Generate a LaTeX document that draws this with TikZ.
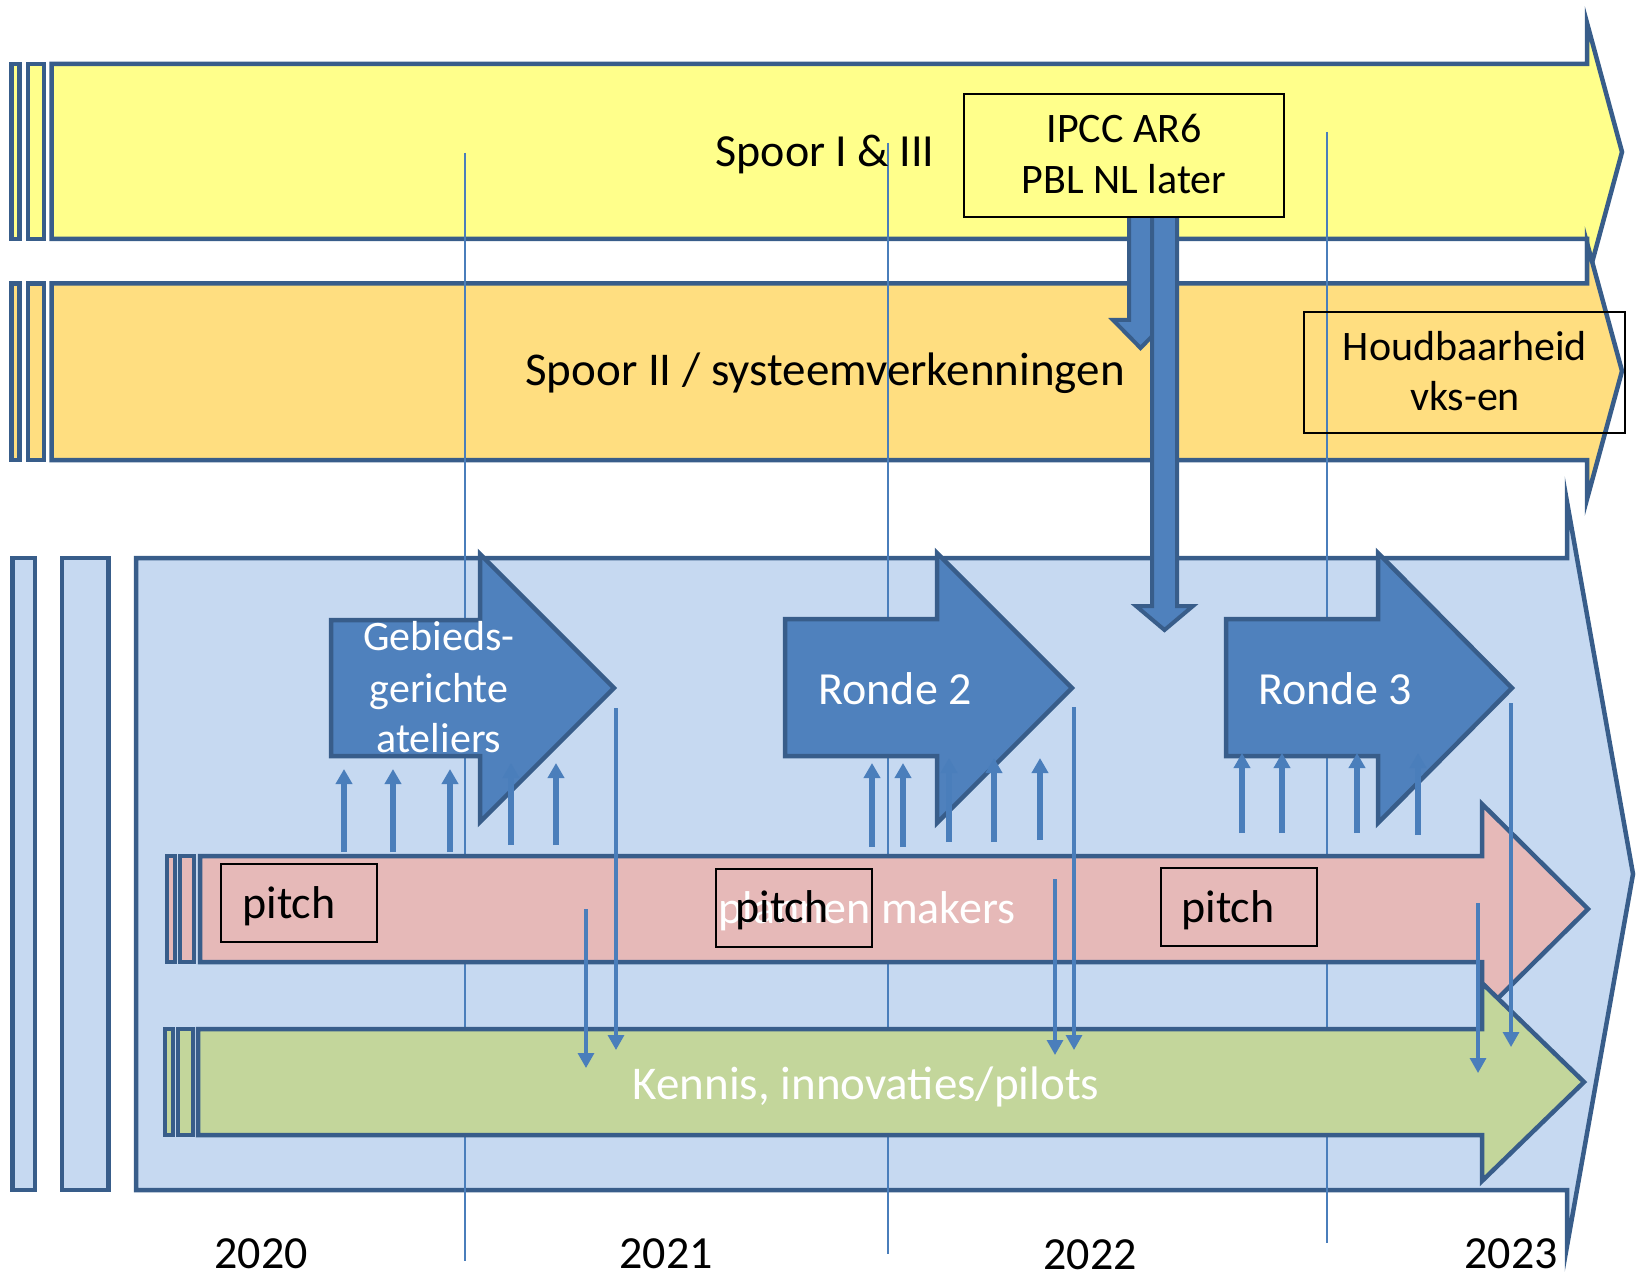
\documentclass[tikz,border=0pt]{standalone}
\usepackage{fontspec}
\setmainfont{Carlito}
\usetikzlibrary{arrows.meta}
\definecolor{cborder}{HTML}{385D8A}
\definecolor{cyellow}{HTML}{FFFF8B}
\definecolor{corange}{HTML}{FFDE80}
\definecolor{clight}{HTML}{C6D9F1}
\definecolor{cblue}{HTML}{4F81BD}
\definecolor{cpink}{HTML}{E6B9B8}
\definecolor{cgreen}{HTML}{C3D69B}
\definecolor{clines}{HTML}{4A7EBB}
\newcommand\fsz[1]{\fontsize{#1}{#1}\selectfont}
\begin{document}
\begin{tikzpicture}[x=0.5pt,y=-0.5pt,
  band/.style={draw=cborder, line width=2.25pt, miter limit=25},
  yearline/.style={draw=clines, line width=1pt},
  uparrow/.style={draw=clines, line width=2.6pt, -{Triangle[width=8pt,length=7.5pt]}},
  downarrow/.style={draw=clines, line width=1.6pt, -{Triangle[width=8pt,length=7.5pt]}},
  boxed/.style={draw=black, line width=0.7pt, inner sep=0pt},
  txt/.style={inner sep=0pt, anchor=base},
  txtw/.style={inner sep=0pt, anchor=base west}]
\useasboundingbox (0,0) rectangle (1652,1278);

% ---- Spoor I & III (yellow)
\draw[band, fill=cyellow] (11.6,64) rectangle (19.7,239);
\draw[band, fill=cyellow] (28.2,64) rectangle (43.8,239);
\draw[band, fill=cyellow] (51.5,64) -- (1587,64) -- (1587,23) -- (1622,152) -- (1587,281) -- (1587,239) -- (51.5,239) -- cycle;

% ---- Spoor II (orange)
\draw[band, fill=corange] (11.6,283.5) rectangle (19.7,460);
\draw[band, fill=corange] (28.2,283.5) rectangle (43.8,460);
\draw[band, fill=corange] (51.5,283.5) -- (1587,283.5) -- (1587,243) -- (1622,371) -- (1587,499) -- (1587,460) -- (51.5,460) -- cycle;

% ---- big light blue arrow
\draw[band, fill=clight] (12.5,558) rectangle (35,1190);
\draw[band, fill=clight] (62,558) rectangle (108.5,1190);
\draw[band, fill=clight] (136,558) -- (1567,558) -- (1567,502) -- (1633,874) -- (1567,1246) -- (1567,1190) -- (136,1190) -- cycle;

% ---- year lines
\coordinate (ya1) at (465,153);  \coordinate (yb1) at (465,1261);
\coordinate (ya2) at (888,143);  \coordinate (yb2) at (888,1254);
\coordinate (ya3) at (1327,132); \coordinate (yb3) at (1327,1243);
\draw[yearline] (ya1) -- (yb1);
\draw[yearline] (ya2) -- (yb2);
\draw[yearline] (ya3) -- (yb3);

% ---- IPCC down arrows
\draw[band, line width=2pt, fill=cblue] (1129,212) -- (1129,320) -- (1113,320) -- (1140.5,348) -- (1168,320) -- (1152,320) -- (1152,212);
\draw[band, line width=2pt, fill=cblue] (1152,212) -- (1152,606) -- (1136,606) -- (1164.5,630) -- (1193,606) -- (1177,606) -- (1177,212);

% ---- IPCC box
\node[boxed, fill=cyellow, minimum width=160pt, minimum height=61.5pt] (ipcc) at (1124,155.5) {};
\node[txt, font=\fsz{21}] (ipcc1) at (1124,143) {IPCC AR6};
\node[txt, font=\fsz{21}] (ipcc2) at (1124,194) {PBL NL later};

% ---- Houdbaarheid box
\node[boxed, minimum width=160.5pt, minimum height=60.5pt] (houd) at (1464.5,372.5) {};
\node[txt, font=\fsz{21}] (houd1) at (1465,360) {Houdbaarheid};
\node[txt, font=\fsz{21}] (houd2) at (1465,410) {vks-en};

% ---- band texts
\node[txt, font=\fsz{23}] (s1) at (825,167) {Spoor I \& III};
\node[txt, font=\fsz{23.5}] (s2) at (825,385) {Spoor II / systeemverkenningen};

% ---- round arrows
\draw[band, fill=cblue] (331,620) -- (480,620) -- (480,554) -- (614,688) -- (480,822) -- (480,756) -- (331,756) -- cycle;
\draw[band, fill=cblue] (785,619) -- (937,619) -- (937,553) -- (1072,688) -- (937,823) -- (937,756) -- (785,756) -- cycle;
\draw[band, fill=cblue] (1226,619) -- (1378,619) -- (1378,553) -- (1512,688) -- (1378,823) -- (1378,756) -- (1226,756) -- cycle;
\node[txt, font=\fsz{21}, text=white] (g1) at (439,650) {Gebieds-};
\node[txt, font=\fsz{21}, text=white] (g2) at (439,702) {gerichte};
\node[txt, font=\fsz{21}, text=white] (g3) at (439,752) {ateliers};
\node[txt, font=\fsz{23}, text=white] (r2) at (895,704) {Ronde 2};
\node[txt, font=\fsz{23}, text=white] (r3) at (1335,704) {Ronde 3};

% ---- pink band
\draw[band, fill=cpink] (167,856) rectangle (175,962);
\draw[band, fill=cpink] (180,856) rectangle (194,962);
\draw[band, fill=cpink] (200,856) -- (1482,856) -- (1482,804) -- (1588,909) -- (1482,1014) -- (1482,962) -- (200,962) -- cycle;

% ---- green band
\draw[band, fill=cgreen] (165,1029) rectangle (173,1135);
\draw[band, fill=cgreen] (178,1029) rectangle (193,1135);
\draw[band, fill=cgreen] (198,1029) -- (1482,1029) -- (1482,983) -- (1584,1082) -- (1482,1181) -- (1482,1135) -- (198,1135) -- cycle;

\node[txt, font=\fsz{23}, text=white] (pm) at (867,923) {plannen makers};
\node[txt, font=\fsz{23.5}, text=white] (ken) at (866,1099) {Kennis, innovaties/pilots};

% ---- up arrows
\foreach \x/\a/\b [count=\i] in {344/852/769,393/852/769,450/852/769,511/845/763,556/845/763,
  872/847/763,903/847/763,949/842/758,994/842/758,1040/840/758,
  1242/833/753,1282/833/753,1357/833/753,1418/835/753}{
  \coordinate (ua\i) at (\x,\a);
  \coordinate (ub\i) at (\x,\b);
  \draw[uparrow] (ua\i) -- (ub\i);
}

% ---- down arrows
\foreach \x/\a/\b [count=\i] in {586/909/1068,616/708/1050,1055/879/1055,1074/707/1050,1478/903/1073,1511/703/1047}{
  \coordinate (da\i) at (\x,\a);
  \coordinate (db\i) at (\x,\b);
  \draw[downarrow] (da\i) -- (db\i);
}

% ---- pitch boxes
\node[boxed, minimum width=78pt, minimum height=39pt] (p1) at (299,903) {};
\node[boxed, minimum width=78pt, minimum height=39pt] (p2) at (794,908) {};
\node[boxed, minimum width=78pt, minimum height=39pt] (p3) at (1239,907) {};
\node[txtw, font=\fsz{23}] (pt1) at (242,918) {pitch};
\node[txtw, font=\fsz{23}] (pt2) at (735,922) {pitch};
\node[txtw, font=\fsz{23}] (pt3) at (1181,922) {pitch};

% ---- years
\node[txt, font=\fsz{23}] (y0) at (261,1268) {2020};
\node[txt, font=\fsz{23}] (y1) at (666,1268) {2021};
\node[txt, font=\fsz{23}] (y2) at (1090,1269) {2022};
\node[txt, font=\fsz{23}] (y3) at (1511,1268) {2023};
\end{tikzpicture}
\end{document}
